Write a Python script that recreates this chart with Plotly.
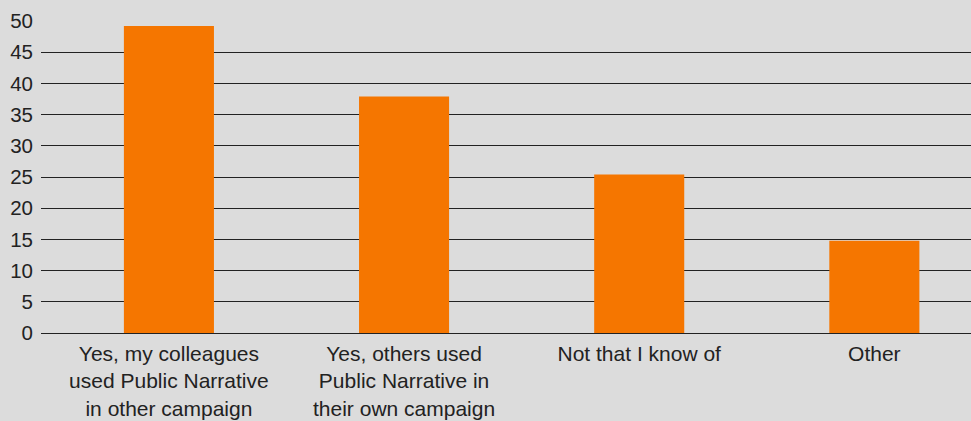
import plotly.graph_objects as go

# Survey responses (percent of respondents)
categories = [
    "Yes, my colleagues<br>used Public Narrative<br>in other campaign",
    "Yes, others used<br>Public Narrative in<br>their own campaign",
    "Not that I know of",
    "Other",
]
values = [49.2, 37.9, 25.4, 14.8]
y_ticks = [0, 5, 10, 15, 20, 25, 30, 35, 40, 45, 50]

BG = "#dcdcdc"
BAR = "#f57600"
TEXT = "#222222"
GRID = "#222222"
FONT = "Liberation Sans, Arial, Helvetica, sans-serif"

fig = go.Figure(
    go.Bar(
        x=categories,
        y=values,
        marker=dict(color=BAR, line=dict(width=0)),
        width=0.383,
        hoverinfo="skip",
    )
)

fig.update_layout(
    width=971,
    height=421,
    margin=dict(l=41, r=0, t=21, b=88),
    paper_bgcolor=BG,
    plot_bgcolor=BG,
    showlegend=False,
    font=dict(family=FONT, size=21, color=TEXT),
)

fig.update_xaxes(
    type="category",
    range=[-0.544, 3.411],
    automargin=False,
    showgrid=False,
    showline=False,
    ticks="",
    zeroline=False,
    ticklabelstandoff=6,
    tickfont=dict(family=FONT, size=21, color=TEXT),
)

fig.update_yaxes(
    range=[0, 50],
    automargin=False,
    tickvals=y_ticks,
    ticktext=[str(v) for v in y_ticks],
    showgrid=True,
    gridcolor=GRID,
    gridwidth=1,
    zeroline=True,
    zerolinecolor=GRID,
    zerolinewidth=1,
    showline=False,
    ticks="",
    ticklabelstandoff=7,
    tickfont=dict(family=FONT, size=20.5, color=TEXT),
)

fig.write_html("out.html")
